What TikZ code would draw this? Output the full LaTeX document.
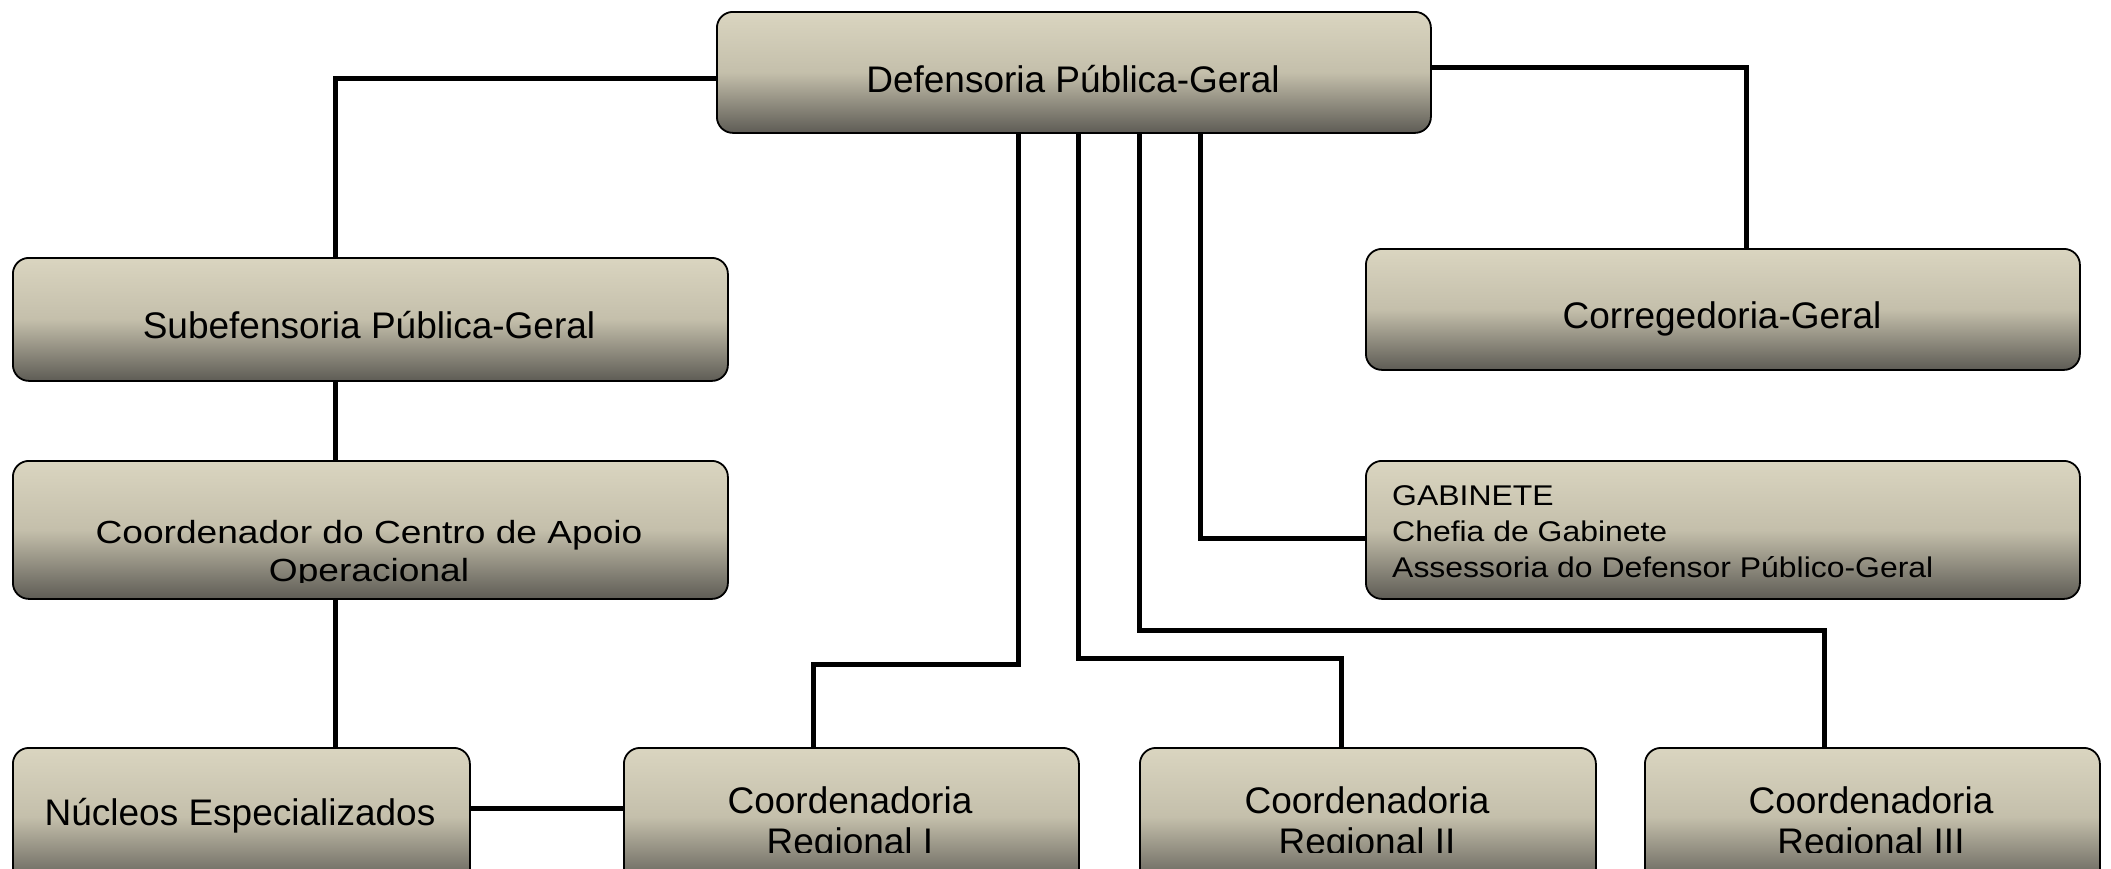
\documentclass[tikz,border=0pt]{standalone}
\usepackage{fontspec}
\setmainfont{Liberation Sans}
\newfontfamily\widefontA[FakeStretch=1.16]{Liberation Sans}
\newfontfamily\widefontB[FakeStretch=1.12]{Liberation Sans}
\definecolor{boxtop}{HTML}{DAD5C0}
\definecolor{boxmid}{HTML}{C4BFAB}
\definecolor{boxbot}{HTML}{5E5C55}
\tikzset{
  orgbox/.style={draw=black, line width=1.8pt, rounded corners=16pt, top color=boxtop, bottom color=boxbot, middle color=boxmid, inner sep=0pt, anchor=north west},
  link/.style={draw=black, line width=5pt},
  lbl/.style={inner sep=0pt, font=\fontsize{37}{42}\selectfont, text=black, anchor=base},
  lblcoord/.style={inner sep=0pt, font=\widefontA\fontsize{32}{37}\selectfont, text=black, anchor=base},
  lblgab/.style={inner sep=0pt, font=\widefontB\fontsize{28.5}{33}\selectfont, text=black, anchor=base west}
}
\begin{document}
\begin{tikzpicture}[x=1pt,y=-1pt]
\useasboundingbox (0,0) rectangle (2111,868);
% coordinates for bends
\coordinate (a1) at (335,78);
\coordinate (a2) at (1746,67);
\coordinate (a3) at (540,808);
\coordinate (b1) at (1018,664);
\coordinate (b2) at (813,664);
\coordinate (c1) at (1078,658);
\coordinate (c2) at (1341,658);
\coordinate (d1) at (1139,630);
\coordinate (d2) at (1824,630);
\coordinate (e1) at (1200,538);
% boxes
\node[orgbox, minimum width=714pt, minimum height=121pt] (top) at (716,11) {};
\node[orgbox, minimum width=715pt, minimum height=123pt] (sub) at (12,257) {};
\node[orgbox, minimum width=715pt, minimum height=138pt] (coord) at (12,460) {};
\node[orgbox, minimum width=714pt, minimum height=121pt] (corr) at (1365,248) {};
\node[orgbox, minimum width=714pt, minimum height=138pt] (gab) at (1365,460) {};
\node[orgbox, minimum width=457pt, minimum height=138pt] (nuc) at (12,747) {};
\node[orgbox, minimum width=455pt, minimum height=138pt] (reg1) at (623,747) {};
\node[orgbox, minimum width=456pt, minimum height=138pt] (reg2) at (1139,747) {};
\node[orgbox, minimum width=455pt, minimum height=138pt] (reg3) at (1644,747) {};
% texts
\node[lbl] (topt) at (1073,92) {Defensoria Pública-Geral};
\node[lbl] (subt) at (369,338) {Subefensoria Pública-Geral};
\node[lbl] (corrt) at (1722,328) {Corregedoria-Geral};
\begin{scope}
\clip (12,460) rectangle (727,582);
\node[lblcoord] (coordt1) at (369,543) {Coordenador do Centro de Apoio};
\node[lblcoord] (coordt2) at (369,581) {Operacional};
\end{scope}
\node[lblgab] (gabt1) at (1392,505) {GABINETE};
\node[lblgab] (gabt2) at (1392,541) {Chefia de Gabinete};
\node[lblgab] (gabt3) at (1392,577) {Assessoria do Defensor Público-Geral};
\node[lbl] (nuct) at (240,825) {Núcleos Especializados};
\node[lbl] (reg1t1) at (850,813) {Coordenadoria};
\node[lbl] (reg2t1) at (1367,813) {Coordenadoria};
\node[lbl] (reg3t1) at (1871,813) {Coordenadoria};
\begin{scope}
\clip (0,747) rectangle (2111,852);
\node[lbl] (reg1t2) at (850,854) {Regional I};
\node[lbl] (reg2t2) at (1367,854) {Regional II};
\node[lbl] (reg3t2) at (1871,854) {Regional III};
\end{scope}
% connectors
\draw[link] (top.west |- a1) -- (a1) -- (sub.north -| a1);
\draw[link] (top.east |- a2) -- (a2) -- (corr.north -| a2);
\draw[link] (sub.south -| a1) -- (coord.north -| a1);
\draw[link] (coord.south -| a1) -- (nuc.north -| a1);
\draw[link] (nuc.east |- a3) -- (reg1.west |- a3);
\draw[link] (top.south -| b1) -- (b1) -- (b2) -- (reg1.north -| b2);
\draw[link] (top.south -| c1) -- (c1) -- (c2) -- (reg2.north -| c2);
\draw[link] (top.south -| d1) -- (d1) -- (d2) -- (reg3.north -| d2);
\draw[link] (top.south -| e1) -- (e1) -- (gab.west |- e1);
\end{tikzpicture}
\end{document}
